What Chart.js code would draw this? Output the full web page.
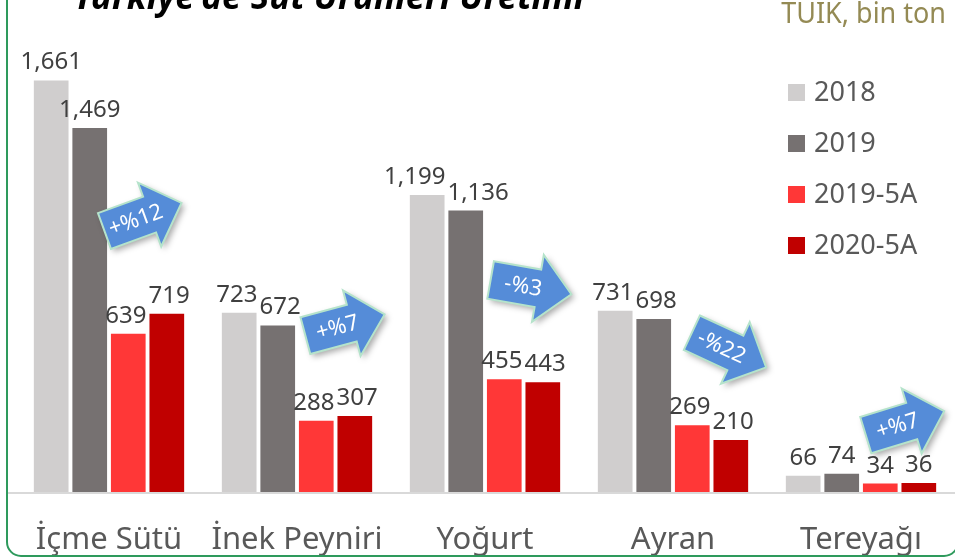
<!DOCTYPE html>
<html>
<head>
<meta charset="utf-8">
<script src="https://cdn.jsdelivr.net/npm/chart.js@4"></script>
<style>
  body { margin: 0; background: #fff; }
  #wrap { width: 955px; height: 560px; }
</style>
</head>
<body>
<div id="wrap"><canvas id="sut" width="955" height="560"></canvas></div>
<script>
// süt ürünleri üretimi, TÜİK, bin ton
const kategoriler = ['İçme Sütü', 'İnek Peyniri', 'Yoğurt', 'Ayran', 'Tereyağı'];
const seriAdlari = ['2018', '2019', '2019-5A', '2020-5A'];
const v2018 = [1661, 723, 1199, 731, 66];
const v2019 = [1469, 672, 1136, 698, 74];
const v2019_5A = [639, 288, 455, 269, 34];
const v2020_5A = [719, 307, 443, 210, 36];
const degisim = ['+%12', '+%7', '-%3', '-%22', '+%7'];

const renkler = ['#d0cece', '#767171', '#ff3737', '#c00000'];
const fontAd = '"Noto Sans", "DejaVu Sans", sans-serif';

// oklarin yeri: kategori merkezine gore kayma (px), y degeri, aci (derece)
const oklar = [
  { dx: 34, y: 1110, aci: -20 },
  { dx: 48, y: 674, aci: -15 },
  { dx: 46, y: 827, aci: 10 },
  { dx: 56, y: 573, aci: 25 },
  { dx: 44, y: 278, aci: -17 }
];

function okCiz(ctx, x, y, aci, yazi) {
  ctx.save();
  ctx.translate(x, y);
  ctx.rotate(aci * Math.PI / 180);
  ctx.beginPath();
  ctx.moveTo(-41, -19);
  ctx.lineTo(7, -19);
  ctx.lineTo(7, -34);
  ctx.lineTo(41, 0);
  ctx.lineTo(7, 34);
  ctx.lineTo(7, 19);
  ctx.lineTo(-41, 19);
  ctx.closePath();
  ctx.shadowColor = 'rgba(0,0,0,0.35)';
  ctx.shadowBlur = 6;
  ctx.shadowOffsetX = 3;
  ctx.shadowOffsetY = 3;
  ctx.fillStyle = '#558cd8';
  ctx.fill();
  ctx.shadowColor = 'transparent';
  ctx.lineWidth = 2;
  ctx.strokeStyle = '#b5e3cb';
  ctx.stroke();
  ctx.fillStyle = '#ffffff';
  ctx.font = '22px ' + fontAd;
  ctx.textAlign = 'center';
  ctx.textBaseline = 'middle';
  ctx.fillText(yazi, -8, 1);
  ctx.restore();
}

const susler = {
  id: 'susler',
  beforeDatasetsDraw(chart) {
    const ctx = chart.ctx;
    const alt = chart.scales.y.getPixelForValue(0);
    ctx.save();
    ctx.strokeStyle = '#d9d9d9';
    ctx.lineWidth = 2;
    ctx.beginPath();
    ctx.moveTo(8, alt + 1);
    ctx.lineTo(955, alt + 1);
    ctx.stroke();
    ctx.restore();
  },
  afterDatasetsDraw(chart) {
    const ctx = chart.ctx;
    ctx.save();
    // deger etiketleri, ust uste binenler yana itilir
    ctx.font = '24px ' + fontAd;
    ctx.fillStyle = '#404040';
    ctx.textAlign = 'center';
    ctx.textBaseline = 'alphabetic';
    chart.data.labels.forEach((_, j) => {
      const kutular = chart.data.datasets.map((ds, i) => {
        const bar = chart.getDatasetMeta(i).data[j];
        const t = ds.data[j].toLocaleString('en-US');
        return { t, x: bar.x, y: bar.y - 11, w: ctx.measureText(t).width };
      });
      for (let k = 0; k < kutular.length - 1; k++) {
        const a = kutular[k], b = kutular[k + 1];
        const ust = (a.x + a.w / 2) - (b.x - b.w / 2) + 2;
        if (ust > 0 && Math.abs(a.y - b.y) < 20) {
          a.x -= ust / 2;
          b.x += ust / 2;
        }
      }
      kutular.forEach(k => ctx.fillText(k.t, k.x, k.y));
    });

    // lejant
    ctx.font = '27px ' + fontAd;
    ctx.textAlign = 'left';
    ctx.textBaseline = 'middle';
    chart.data.datasets.forEach((ds, i) => {
      const yy = 92 + i * 51;
      ctx.fillStyle = ds.backgroundColor;
      ctx.fillRect(788, yy - 8, 17, 17);
      ctx.fillStyle = '#595959';
      ctx.fillText(ds.label, 814, yy + 1);
    });

    // oklar
    oklar.forEach((ok, i) => {
      const x = chart.scales.x.getPixelForValue(i) + ok.dx;
      const y = chart.scales.y.getPixelForValue(ok.y);
      okCiz(ctx, x, y, ok.aci, degisim[i]);
    });

    // baslik (ust kismi kesik)
    ctx.fillStyle = '#000000';
    ctx.font = 'italic bold 35px ' + fontAd;
    ctx.textAlign = 'left';
    ctx.textBaseline = 'alphabetic';
    ctx.fillText("Türkiye'de Süt Ürünleri Üretimi", 74, 9);

    // kaynak
    ctx.save();
    ctx.fillStyle = '#948a54';
    ctx.font = '29px ' + fontAd;
    ctx.textAlign = 'right';
    ctx.translate(946, 23);
    ctx.scale(0.93, 1);
    ctx.fillText('TÜİK, bin ton', 0, 0);
    ctx.restore();

    // cerceve
    ctx.strokeStyle = '#2e9a5c';
    ctx.lineWidth = 2;
    ctx.beginPath();
    ctx.roundRect(7, -30, 951, 586, 14);
    ctx.stroke();
    ctx.restore();
  }
};

const veri = {
  labels: kategoriler,
  datasets: [v2018, v2019, v2019_5A, v2020_5A].map((d, i) => ({
    label: seriAdlari[i],
    data: d,
    backgroundColor: renkler[i],
    categoryPercentage: 0.82,
    barPercentage: 0.9
  }))
};

const ayar = {
  type: 'bar',
  data: veri,
  options: {
    responsive: false,
    animation: false,
    layout: { padding: { left: 15, right: 0, top: 46, bottom: 4 } },
    scales: {
      x: {
        grid: { display: false, drawTicks: false },
        border: { display: false },
        ticks: {
          color: '#595959',
          padding: 30,
          font: { family: fontAd, size: 31 }
        },
        afterFit(scale) { scale.height = 64; }
      },
      y: { display: false, min: 0, max: 1800 }
    },
    plugins: {
      legend: { display: false },
      tooltip: { enabled: false }
    }
  },
  plugins: [susler]
};

const sutGrafik = new Chart(document.getElementById('sut'), ayar);
</script>
</body>
</html>
